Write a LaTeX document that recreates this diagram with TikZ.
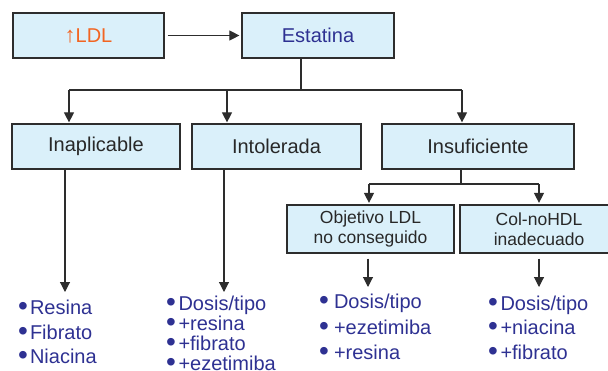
\documentclass[tikz,border=0pt]{standalone}
\usepackage{fontspec}
\setmainfont{Liberation Sans}
\usetikzlibrary{arrows.meta,calc}
\definecolor{boxfill}{RGB}{218,240,250}
\definecolor{boxline}{RGB}{45,45,45}
\definecolor{txtblue}{RGB}{46,49,146}
\definecolor{txtorange}{RGB}{242,101,34}
\definecolor{txtgray}{RGB}{40,40,40}
\newcommand{\bigbul}{\smash{\raisebox{-1pt}{\scalebox{1.4}{•}}}}
\begin{document}
\begin{tikzpicture}[x=1pt,y=-1pt,
  box/.style={draw=boxline,fill=boxfill,line width=1.2pt,inner sep=0pt,text=txtgray,font=\fontsize{20}{24}\selectfont,align=center},
  subbox/.style={box,font=\fontsize{17.5}{20}\selectfont},
  conn/.style={draw=boxline,line width=1.1pt},
  arr/.style={conn,-{Triangle[width=10pt,length=10pt]}},
  item/.style={anchor=base west,inner sep=0pt,text=txtblue,font=\fontsize{20}{24}\selectfont}]
\useasboundingbox (0,0) rectangle (608,370);
% boxes
\node[box,minimum width=151pt,minimum height=45pt,text=txtorange] (ldl) at (88.5,35.5) {{\fontsize{22}{24}\selectfont↑}LDL};
\node[box,minimum width=152pt,minimum height=45pt,text=txtblue] (est) at (318,35.5) {Estatina};
\node[box,minimum width=168pt,minimum height=45pt] (inap) at (96,146.5) {Inaplicable};
\node[box,minimum width=169pt,minimum height=45pt] (intol) at (276.5,146.5) {Intolerada};
\node[box,minimum width=192pt,minimum height=45pt] (insu) at (478,146.5) {Insuficiente};
\node[subbox,minimum width=167pt,minimum height=48pt] (obj) at (370.5,229) {Objetivo LDL\\no conseguido};
\node[subbox,minimum width=158pt,minimum height=48pt] (col) at (539,229) {Col-noHDL\\inadecuado};
% connectors top
\draw[arr,shorten <=3pt,shorten >=2pt] (ldl) -- (est);
\coordinate (e1) at (301,90);
\coordinate (b1) at (69,90);
\coordinate (b2) at (227,90);
\coordinate (b3) at (462,90);
\draw[conn] (e1 |- est.south) -- (e1);
\draw[conn] (b1) -- (b3);
\draw[arr,shorten >=1pt] (b1) -- (b1 |- inap.north);
\draw[arr,shorten >=1pt] (b2) -- (b2 |- intol.north);
\draw[arr,shorten >=1pt] (b3) -- (b3 |- insu.north);
% Insuficiente split
\coordinate (s0) at (461,184);
\coordinate (s1) at (369,184);
\coordinate (s2) at (539,184);
\draw[conn] (s0 |- insu.south) -- (s0);
\draw[conn] (s1) -- (s2);
\draw[arr,shorten >=1.5pt] (s1) -- (s1 |- obj.north);
\draw[arr,shorten >=1.5pt] (s2) -- (s2 |- col.north);
% lower connectors
\coordinate (i1) at (65,292);
\coordinate (i2) at (224,292);
\coordinate (i3) at (368,287);
\coordinate (i4) at (539,287);
\draw[arr] (i1 |- inap.south) -- (i1);
\draw[arr] (i2 |- intol.south) -- (i2);
\draw[arr,shorten <=5pt] (i3 |- obj.south) -- (i3);
\draw[arr,shorten <=5pt] (i4 |- col.south) -- (i4);
% lists
\node[item] (l1a) at (18,314) {\bigbul\hspace{2pt}Resina};
\node[item] (l1b) at (18,339) {\bigbul\hspace{2pt}Fibrato};
\node[item] (l1c) at (18,363) {\bigbul\hspace{2pt}Niacina};
\node[item] (l2a) at (166,310.5) {\bigbul\hspace{2.5pt}Dosis/tipo};
\node[item] (l2b) at (166,330.5) {\bigbul\hspace{2.5pt}+resina};
\node[item] (l2c) at (166,350.5) {\bigbul\hspace{2.5pt}+fibrato};
\node[item] (l2d) at (166,370.5) {\bigbul\hspace{2.5pt}+ezetimiba};
\node[item] (l3a) at (319,308.5) {\bigbul\hspace{5pt}Dosis/tipo};
\node[item] (l3b) at (319,334) {\bigbul\hspace{5pt}+ezetimiba};
\node[item] (l3c) at (319,359.5) {\bigbul\hspace{5pt}+resina};
\node[item] (l4a) at (488,310) {\bigbul\hspace{2.5pt}Dosis/tipo};
\node[item] (l4b) at (488,334) {\bigbul\hspace{2.5pt}+niacina};
\node[item] (l4c) at (488,359) {\bigbul\hspace{2.5pt}+fibrato};
\end{tikzpicture}
\end{document}
